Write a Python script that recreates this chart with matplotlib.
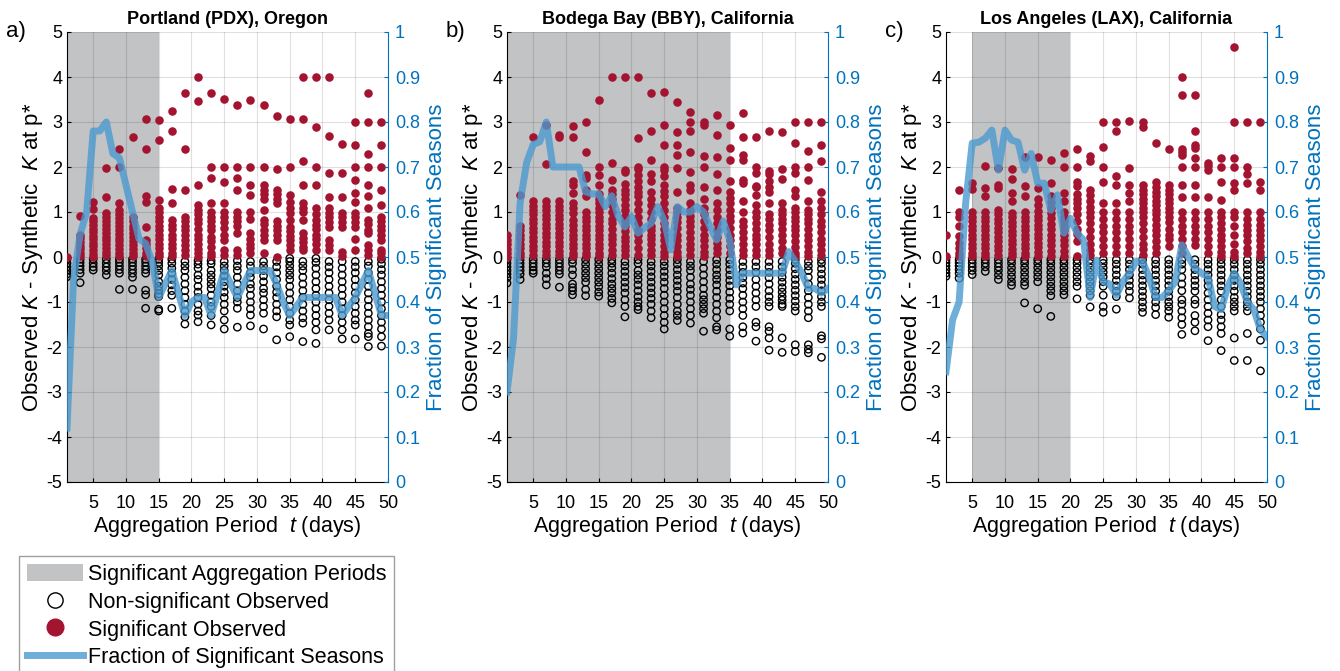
import matplotlib
matplotlib.use('Agg')
import matplotlib.pyplot as plt
from matplotlib.patches import Patch
from matplotlib.lines import Line2D

plt.rcParams['font.family'] = ['Liberation Sans', 'DejaVu Sans']
plt.rcParams['mathtext.fontset'] = 'custom'
plt.rcParams['mathtext.rm'] = 'Liberation Sans'
plt.rcParams['mathtext.it'] = 'Liberation Sans:italic'
plt.rcParams['axes.unicode_minus'] = False

# ---------------- data ----------------
periods = list(range(1, 51, 2))      # aggregation periods with scatter columns
days = list(range(1, 51))            # every aggregation period (fraction line)

titles = ['Portland (PDX), Oregon', 'Bodega Bay (BBY), California', 'Los Angeles (LAX), California']
panel_labels = ['a)', 'b)', 'c)']
sig_ranges = [(1, 15), (1, 35), (5, 20)]

pdx_sig = [
    [0.0],
    [0.91, 0.5, 0.42, 0.33, 0.25, 0.17, 0.08, 0.02],
    [1.23, 1.06, 0.87, 0.8, 0.72, 0.63, 0.55, 0.47, 0.4, 0.32, 0.24, 0.15, 0.07, 0.01],
    [1.98, 1.34, 0.97, 0.88, 0.8, 0.71, 0.62, 0.54, 0.45, 0.37, 0.28, 0.2, 0.12, 0.04],
    [2.39, 2.0, 1.21, 1.05, 0.95, 0.86, 0.78, 0.69, 0.6, 0.52, 0.43, 0.35, 0.26, 0.18, 0.1, 0.02],
    [2.67, 0.9, 0.8, 0.7, 0.62, 0.53, 0.44, 0.35, 0.27, 0.18, 0.1, 0.02],
    [3.07, 2.39, 1.36, 1.23, 0.67, 0.37, 0.28, 0.19, 0.1, 0.02],
    [3.05, 2.6, 1.26, 1.1, 1.0, 0.9, 0.8, 0.7, 0.6, 0.5, 0.4, 0.3, 0.2, 0.1, 0.02],
    [3.25, 2.8, 1.51, 1.21, 0.82, 0.72, 0.63, 0.5, 0.4, 0.3, 0.2, 0.1, 0.02],
    [3.65, 2.39, 1.5, 0.9, 0.8, 0.7, 0.6, 0.5, 0.38, 0.27, 0.15, 0.05],
    [4.0, 3.46, 1.6, 1.15, 1.05, 0.95, 0.85, 0.75, 0.62, 0.5, 0.4, 0.3, 0.18, 0.08, 0.01],
    [3.65, 2.0, 1.76, 1.2, 1.0, 0.9, 0.8, 0.7, 0.6, 0.45, 0.35, 0.22, 0.1, 0.02],
    [3.52, 2.0, 1.67, 1.2, 1.0, 0.9, 0.78, 0.65, 0.5, 0.38, 0.16, 0.05],
    [3.38, 2.0, 1.76, 1.48, 1.0, 0.9, 0.8, 0.68, 0.53, 0.16, 0.05],
    [3.49, 2.0, 1.61, 1.37, 1.0, 0.85, 0.53, 0.4, 0.3, 0.2, 0.08],
    [3.38, 2.0, 1.6, 1.5, 1.4, 1.28, 1.05, 0.82, 0.73, 0.6, 0.5, 0.38, 0.08],
    [3.13, 1.96, 1.5, 1.4, 1.3, 1.2, 0.8, 0.7, 0.6, 0.5, 0.38, 0.01],
    [3.07, 2.0, 1.37, 1.23, 1.1, 0.97, 0.82, 0.67, 0.57, 0.47, 0.37, 0.27, 0.16],
    [4.0, 3.07, 2.14, 1.6, 1.21, 1.1, 1.0, 0.82, 0.53, 0.43, 0.33, 0.23, 0.16],
    [4.0, 2.88, 2.0, 1.6, 1.09, 0.95, 0.82, 0.72, 0.62, 0.5, 0.4, 0.3, 0.16],
    [4.0, 2.7, 1.86, 1.33, 1.09, 0.98, 0.88, 0.78, 0.67, 0.38, 0.26, 0.16],
    [2.51, 1.86, 1.33, 0.97, 0.88, 0.78, 0.67, 0.12, 0.02],
    [3.0, 2.49, 2.0, 1.72, 1.42, 1.23, 0.97, 0.88, 0.78, 0.67, 0.41, 0.16],
    [3.65, 3.0, 2.28, 2.0, 1.6, 1.36, 1.09, 0.82, 0.73, 0.6, 0.53, 0.26, 0.16, 0.05],
    [3.0, 2.49, 2.0, 1.48, 1.16, 0.9, 0.8, 0.7, 0.6, 0.5, 0.38, 0.16, 0.08, 0.01],
]
pdx_non = [
    [-0.05, -0.14, -0.22, -0.3, -0.38, -0.44],
    [-0.05, -0.12, -0.2, -0.28, -0.36, -0.57],
    [-0.05, -0.14, -0.22, -0.29],
    [-0.05, -0.14, -0.22, -0.3, -0.4],
    [-0.05, -0.12, -0.2, -0.28, -0.36, -0.72],
    [-0.05, -0.12, -0.2, -0.28, -0.36, -0.45, -0.72],
    [-0.05, -0.12, -0.2, -0.28, -0.36, -0.74, -0.84, -1.14],
    [-0.05, -0.12, -0.2, -0.3, -0.4, -0.55, -0.65, -0.74, -0.82, -0.88, -1.16, -1.2],
    [-0.05, -0.14, -0.25, -0.36, -0.5, -0.62, -0.75, -0.85, -1.14],
    [-0.1, -0.2, -0.3, -0.45, -0.6, -0.75, -0.9, -1.05, -1.2, -1.33, -1.49],
    [-0.08, -0.16, -0.25, -0.4, -0.5, -0.65, -0.78, -0.9, -1.05, -1.2, -1.29, -1.44],
    [-0.08, -0.15, -0.3, -0.4, -0.5, -0.6, -0.7, -0.85, -1.0, -1.1, -1.3, -1.51],
    [-0.1, -0.2, -0.3, -0.42, -0.55, -0.65, -0.78, -0.9, -1.05, -1.2, -1.4, -1.6],
    [-0.08, -0.2, -0.3, -0.45, -0.6, -0.75, -0.9, -1.0, -1.14, -1.56],
    [-0.1, -0.2, -0.35, -0.45, -0.6, -0.7, -0.85, -1.0, -1.15, -1.29, -1.53],
    [-0.1, -0.2, -0.3, -0.42, -0.55, -0.7, -0.8, -0.95, -1.1, -1.25, -1.6],
    [-0.1, -0.22, -0.35, -0.5, -0.65, -0.78, -0.9, -1.05, -1.2, -1.33, -1.84],
    [-0.03, -0.1, -0.2, -0.3, -0.4, -0.5, -0.65, -0.8, -0.95, -1.1, -1.25, -1.4, -1.51, -1.77],
    [-0.1, -0.2, -0.3, -0.45, -0.6, -0.75, -0.9, -1.05, -1.2, -1.35, -1.47, -1.88],
    [-0.03, -0.12, -0.25, -0.4, -0.55, -0.7, -0.85, -1.0, -1.15, -1.3, -1.45, -1.62, -1.92],
    [-0.1, -0.22, -0.35, -0.5, -0.65, -0.8, -0.95, -1.1, -1.25, -1.4, -1.62],
    [-0.1, -0.25, -0.4, -0.55, -0.7, -0.85, -1.0, -1.15, -1.3, -1.45, -1.62, -1.82],
    [-0.1, -0.22, -0.35, -0.5, -0.65, -0.8, -0.95, -1.1, -1.25, -1.4, -1.51, -1.82],
    [-0.1, -0.2, -0.35, -0.5, -0.65, -0.8, -0.95, -1.1, -1.25, -1.4, -1.55, -1.7, -1.77, -1.99],
    [-0.05, -0.15, -0.28, -0.4, -0.55, -0.7, -0.85, -1.0, -1.15, -1.3, -1.45, -1.6, -1.77, -1.98],
]
pdx_frac = [0.12, 0.45, 0.55, 0.60, 0.78, 0.78, 0.80, 0.73, 0.72, 0.66,
            0.60, 0.54, 0.53, 0.49, 0.41, 0.44, 0.47, 0.42, 0.37, 0.40,
            0.41, 0.41, 0.37, 0.42, 0.47, 0.44, 0.41, 0.44, 0.47, 0.47,
            0.47, 0.47, 0.44, 0.40, 0.37, 0.39, 0.41, 0.41, 0.41, 0.41,
            0.41, 0.41, 0.37, 0.39, 0.41, 0.44, 0.47, 0.42, 0.37, 0.37]

bby_sig = [
    [0.49, 0.38, 0.28, 0.18, 0.08, 0.01],
    [1.38, 0.68, 0.6, 0.5, 0.4, 0.3, 0.2, 0.1, 0.02],
    [2.67, 1.24, 1.14, 1.05, 0.95, 0.85, 0.75, 0.65, 0.55, 0.45, 0.35, 0.25, 0.15, 0.05],
    [2.94, 2.07, 1.24, 1.14, 1.04, 0.94, 0.84, 0.74, 0.64, 0.54, 0.44, 0.34, 0.24, 0.14, 0.04],
    [2.72, 2.67, 1.24, 1.14, 1.04, 0.94, 0.84, 0.74, 0.64, 0.54, 0.44, 0.34, 0.24, 0.14, 0.04],
    [2.92, 2.67, 1.7, 1.6, 1.42, 1.2, 1.1, 0.98, 0.82, 0.72, 0.6, 0.5, 0.4, 0.3, 0.2, 0.1, 0.02],
    [3.0, 2.34, 1.82, 1.75, 1.5, 1.35, 1.0, 0.9, 0.8, 0.7, 0.6, 0.5, 0.4, 0.3, 0.2, 0.1, 0.02],
    [3.5, 2.0, 1.83, 1.6, 1.4, 1.3, 1.2, 1.1, 1.0, 0.9, 0.8, 0.7, 0.6, 0.5, 0.4, 0.3, 0.2, 0.1, 0.02],
    [4.0, 2.09, 1.72, 1.5, 1.4, 1.3, 1.15, 1.0, 0.85, 0.75, 0.62, 0.5, 0.4, 0.28, 0.16, 0.05],
    [4.0, 1.94, 1.88, 1.63, 1.5, 1.4, 1.3, 1.15, 1.05, 0.92, 0.8, 0.7, 0.58, 0.45, 0.35, 0.25, 0.15, 0.05],
    [4.0, 2.65, 2.0, 1.95, 1.83, 1.7, 1.55, 1.45, 1.35, 1.2, 1.05, 0.9, 0.75, 0.6, 0.48, 0.35, 0.2, 0.05],
    [3.64, 2.8, 2.16, 1.85, 1.7, 1.45, 1.3, 1.15, 1.0, 0.85, 0.7, 0.6, 0.5, 0.4, 0.28, 0.15, 0.05],
    [3.66, 2.94, 2.5, 2.0, 1.93, 1.8, 1.6, 1.47, 1.35, 1.2, 1.05, 0.9, 0.75, 0.62, 0.5, 0.38, 0.25, 0.12, 0.02],
    [3.44, 2.77, 2.5, 2.27, 1.98, 1.45, 1.1, 1.0, 0.9, 0.78, 0.65, 0.5, 0.38, 0.25, 0.12, 0.02],
    [3.22, 3.0, 2.8, 2.34, 1.89, 1.6, 1.48, 1.2, 1.05, 0.92, 0.8, 0.68, 0.55, 0.42, 0.3, 0.18, 0.05],
    [3.0, 2.93, 2.25, 2.0, 1.55, 1.3, 1.1, 0.95, 0.8, 0.65, 0.5, 0.38, 0.25, 0.12, 0.02],
    [3.16, 2.71, 2.22, 1.85, 1.48, 1.2, 1.05, 0.9, 0.75, 0.6, 0.45, 0.32, 0.2, 0.08],
    [2.94, 2.43, 2.15, 1.68, 1.45, 1.32, 1.2, 1.05, 0.92, 0.8, 0.65, 0.5, 0.38, 0.25, 0.1],
    [3.2, 2.67, 2.27, 2.16, 1.72, 1.65, 1.24, 1.0, 0.8, 0.7, 0.55, 0.42, 0.3, 0.15, 0.05],
    [2.67, 2.0, 1.87, 1.58, 1.55, 1.38, 1.15, 1.0, 0.88, 0.75, 0.62, 0.5, 0.4, 0.28, 0.15, 0.05],
    [2.79, 1.92, 1.85, 1.7, 1.55, 1.45, 1.2, 0.95, 0.85, 0.72, 0.6, 0.45, 0.3, 0.15, 0.05],
    [2.77, 1.95, 1.73, 1.2, 1.05, 0.95, 0.85, 0.75, 0.62, 0.5, 0.35, 0.2, 0.08],
    [3.0, 2.53, 2.0, 1.87, 1.5, 1.35, 1.1, 1.0, 0.9, 0.8, 0.7, 0.6, 0.48, 0.35, 0.22, 0.1, 0.02],
    [3.0, 2.36, 2.0, 1.72, 1.25, 1.05, 0.95, 0.85, 0.75, 0.62, 0.5, 0.38, 0.25, 0.12, 0.02],
    [3.0, 2.5, 2.14, 1.45, 1.24, 1.1, 0.95, 0.8, 0.68, 0.55, 0.4, 0.28, 0.15, 0.05],
]
bby_non = [
    [-0.06, -0.14, -0.22, -0.3, -0.38, -0.46, -0.58],
    [-0.06, -0.14, -0.22, -0.3, -0.38, -0.5],
    [-0.06, -0.14, -0.22, -0.3, -0.36],
    [-0.06, -0.14, -0.22, -0.36, -0.48, -0.62],
    [-0.06, -0.14, -0.22, -0.3, -0.38, -0.67],
    [-0.06, -0.14, -0.28, -0.4, -0.6, -0.68, -0.75, -0.84],
    [-0.06, -0.16, -0.26, -0.36, -0.46, -0.56, -0.72, -0.86],
    [-0.06, -0.16, -0.26, -0.36, -0.46, -0.56, -0.66, -0.78, -0.87],
    [-0.06, -0.14, -0.24, -0.36, -0.48, -0.6, -0.7, -0.8, -0.92, -1.02],
    [-0.1, -0.2, -0.32, -0.44, -0.56, -0.68, -0.8, -0.95, -1.1, -1.33],
    [-0.06, -0.14, -0.3, -0.4, -0.5, -0.62, -0.75, -0.88, -1.0, -1.1, -1.17],
    [-0.1, -0.2, -0.32, -0.44, -0.56, -0.68, -0.8, -0.92, -1.05, -1.2, -1.35],
    [-0.1, -0.2, -0.32, -0.44, -0.56, -0.7, -0.85, -1.0, -1.15, -1.3, -1.45, -1.6],
    [-0.06, -0.16, -0.28, -0.4, -0.52, -0.64, -0.76, -0.9, -1.05, -1.2, -1.3, -1.41],
    [-0.1, -0.2, -0.3, -0.45, -0.6, -0.72, -0.85, -1.0, -1.15, -1.3, -1.47],
    [-0.1, -0.25, -0.4, -0.55, -0.7, -0.85, -0.95, -1.05, -1.15, -1.25, -1.65],
    [-0.06, -0.16, -0.28, -0.4, -0.5, -0.62, -0.76, -0.9, -1.05, -1.2, -1.35, -1.55, -1.62],
    [-0.06, -0.16, -0.28, -0.4, -0.52, -0.64, -0.78, -0.92, -1.05, -1.2, -1.6, -1.76],
    [-0.1, -0.22, -0.34, -0.46, -0.58, -0.7, -0.85, -1.0, -1.15, -1.3, -1.55, -1.69],
    [-0.1, -0.22, -0.34, -0.5, -0.65, -0.8, -0.95, -1.1, -1.45, -1.55, -1.87],
    [-0.1, -0.22, -0.34, -0.46, -0.6, -0.75, -0.88, -1.0, -1.1, -1.55, -1.65, -1.8, -2.07],
    [-0.1, -0.22, -0.34, -0.45, -0.56, -0.68, -0.78, -0.88, -0.96, -1.05, -1.1, -1.8, -2.12],
    [-0.06, -0.14, -0.26, -0.38, -0.5, -0.62, -0.74, -0.86, -0.98, -1.1, -1.2, -1.95, -2.1],
    [-0.1, -0.2, -0.3, -0.45, -0.6, -0.75, -0.9, -1.05, -1.2, -1.35, -1.95, -2.05, -2.13],
    [-0.06, -0.14, -0.26, -0.38, -0.5, -0.62, -0.75, -0.88, -1.0, -1.1, -1.75, -1.82, -2.23],
]
bby_frac = [0.20, 0.32, 0.62, 0.71, 0.75, 0.756, 0.80, 0.70, 0.70, 0.70,
            0.70, 0.70, 0.645, 0.64, 0.64, 0.612, 0.636, 0.59, 0.567, 0.59,
            0.553, 0.565, 0.575, 0.612, 0.58, 0.516, 0.612, 0.60, 0.60, 0.612,
            0.60, 0.567, 0.538, 0.58, 0.538, 0.438, 0.464, 0.464, 0.464, 0.464,
            0.464, 0.464, 0.464, 0.512, 0.49, 0.464, 0.43, 0.43, 0.42, 0.43]

lax_sig = [
    [0.5, 0.03],
    [1.5, 1.0, 0.88, 0.68, 0.46, 0.31, 0.2, 0.1, 0.03],
    [1.64, 1.51, 1.0, 0.9, 0.8, 0.7, 0.6, 0.5, 0.4, 0.3, 0.2, 0.1, 0.03],
    [2.03, 1.53, 1.35, 1.0, 0.9, 0.8, 0.7, 0.6, 0.5, 0.4, 0.3, 0.2, 0.1, 0.03],
    [1.98, 1.6, 1.53, 1.05, 0.95, 0.85, 0.75, 0.65, 0.55, 0.45, 0.35, 0.25, 0.15, 0.05],
    [1.95, 1.73, 1.42, 1.25, 0.98, 0.88, 0.78, 0.68, 0.58, 0.48, 0.38, 0.28, 0.18, 0.08, 0.02],
    [2.22, 1.57, 1.35, 1.0, 0.9, 0.8, 0.7, 0.6, 0.5, 0.4, 0.3, 0.2, 0.1, 0.03],
    [2.22, 1.53, 1.28, 1.15, 1.02, 0.92, 0.82, 0.72, 0.62, 0.52, 0.42, 0.32, 0.22, 0.12, 0.03],
    [2.16, 1.64, 1.35, 1.22, 1.1, 0.98, 0.86, 0.74, 0.62, 0.5, 0.38, 0.26, 0.14, 0.03],
    [2.31, 2.0, 1.42, 1.24, 1.0, 0.9, 0.8, 0.7, 0.6, 0.5, 0.38, 0.26, 0.14, 0.03],
    [2.41, 2.0, 1.66, 1.57, 1.4, 1.3, 1.2, 1.1, 0.95, 0.8, 0.62, 0.52, 0.35, 0.03],
    [2.24, 2.14, 1.5, 1.38, 1.25, 1.12, 1.0, 0.88, 0.75, 0.6, 0.45, 0.3, 0.15, 0.05],
    [3.0, 2.44, 2.0, 1.66, 1.2, 1.0, 0.85, 0.7, 0.55, 0.4, 0.25, 0.1],
    [3.0, 2.81, 1.79, 1.59, 1.2, 1.0, 0.85, 0.7, 0.55, 0.4, 0.25, 0.1],
    [3.03, 1.98, 1.6, 1.42, 1.25, 1.0, 0.85, 0.7, 0.55, 0.4, 0.25, 0.1],
    [3.0, 2.89, 1.6, 1.5, 1.4, 1.3, 1.2, 1.1, 1.0, 0.9, 0.75, 0.6, 0.45, 0.3, 0.18, 0.05],
    [2.53, 1.66, 1.55, 1.45, 1.35, 1.25, 1.15, 1.05, 0.95, 0.85, 0.72, 0.6, 0.48, 0.35, 0.22, 0.1],
    [2.41, 1.6, 1.5, 1.4, 1.3, 1.2, 1.1, 1.0, 0.9, 0.78, 0.62, 0.5, 0.4, 0.25],
    [4.0, 3.6, 2.41, 2.34, 2.27, 2.0, 1.59, 1.33, 1.0, 0.85, 0.7, 0.55, 0.4, 0.25, 0.1],
    [3.6, 2.81, 2.5, 2.42, 2.2, 2.0, 1.59, 1.33, 1.0, 0.85, 0.7, 0.55, 0.4, 0.27],
    [2.1, 2.02, 1.94, 1.33, 1.0, 0.85, 0.7, 0.55, 0.4, 0.25, 0.1],
    [2.2, 2.0, 1.67, 1.27, 1.0, 0.88, 0.75, 0.62, 0.5, 0.38, 0.25, 0.12, 0.03],
    [4.67, 3.0, 2.2, 2.0, 1.64, 1.5, 1.0, 0.88, 0.7, 0.5, 0.3, 0.12, 0.03],
    [3.0, 2.0, 1.84, 1.64, 1.0, 0.85, 0.72, 0.6, 0.48, 0.35, 0.2, 0.1],
    [3.0, 1.67, 1.5, 1.0, 0.85, 0.72, 0.6, 0.5, 0.38, 0.25, 0.12, 0.03],
]
lax_non = [
    [-0.06, -0.13, -0.2, -0.28, -0.36, -0.43],
    [-0.06, -0.13, -0.2, -0.28, -0.36, -0.47],
    [-0.06, -0.14, -0.22, -0.3, -0.39],
    [-0.06, -0.14, -0.22, -0.32],
    [-0.06, -0.14, -0.22, -0.3, -0.4, -0.5],
    [-0.06, -0.14, -0.24, -0.34, -0.44, -0.55, -0.63],
    [-0.06, -0.14, -0.24, -0.34, -0.44, -0.55, -0.63, -1.02],
    [-0.06, -0.14, -0.24, -0.34, -0.44, -0.55, -1.15],
    [-0.06, -0.14, -0.24, -0.34, -0.44, -0.55, -0.65, -0.75, -0.86, -1.32],
    [-0.06, -0.14, -0.24, -0.34, -0.44, -0.55, -0.65, -0.75, -0.84],
    [-0.06, -0.14, -0.24, -0.34, -0.44, -0.55, -0.65, -0.93],
    [-0.06, -0.14, -0.24, -0.34, -0.44, -0.55, -0.65, -0.75, -0.85, -1.11],
    [-0.06, -0.14, -0.24, -0.34, -0.44, -0.55, -0.65, -0.85, -1.1, -1.23],
    [-0.06, -0.16, -0.28, -0.4, -0.52, -0.64, -0.76, -0.88, -1.16],
    [-0.06, -0.16, -0.28, -0.4, -0.52, -0.64, -0.76, -0.91],
    [-0.06, -0.16, -0.28, -0.4, -0.52, -0.64, -0.76, -0.88, -1.0, -1.12, -1.23],
    [-0.06, -0.16, -0.28, -0.4, -0.52, -0.64, -0.76, -0.88, -1.0, -1.12, -1.28],
    [-0.06, -0.16, -0.28, -0.4, -0.52, -0.64, -0.76, -0.88, -1.0, -1.1, -1.2, -1.34],
    [-0.06, -0.16, -0.28, -0.45, -0.6, -0.75, -0.95, -1.05, -1.2, -1.35, -1.5, -1.72],
    [-0.06, -0.16, -0.28, -0.4, -0.52, -0.64, -0.76, -0.95, -1.05, -1.3, -1.45, -1.64],
    [-0.06, -0.16, -0.28, -0.4, -0.52, -0.64, -0.8, -0.95, -1.1, -1.25, -1.4, -1.55, -1.86],
    [-0.06, -0.16, -0.28, -0.4, -0.52, -0.64, -0.76, -0.95, -1.1, -1.28, -1.4, -1.55, -1.7, -2.08],
    [-0.06, -0.16, -0.28, -0.4, -0.52, -0.64, -0.76, -0.9, -1.0, -1.1, -1.2, -1.8, -2.3],
    [-0.06, -0.16, -0.28, -0.4, -0.52, -0.64, -0.76, -0.88, -1.0, -1.1, -1.2, -1.7, -2.3],
    [-0.06, -0.16, -0.28, -0.4, -0.52, -0.64, -0.76, -0.88, -1.0, -1.15, -1.3, -1.45, -1.6, -1.85, -2.53],
]
lax_frac = [0.245, 0.36, 0.40, 0.62, 0.753, 0.755, 0.764, 0.782, 0.693, 0.782,
            0.76, 0.755, 0.693, 0.73, 0.664, 0.664, 0.604, 0.638, 0.553, 0.586,
            0.553, 0.538, 0.41, 0.493, 0.445, 0.44, 0.415, 0.445, 0.464, 0.49,
            0.49, 0.455, 0.41, 0.41, 0.425, 0.445, 0.527, 0.50, 0.475, 0.464,
            0.455, 0.39, 0.383, 0.434, 0.464, 0.44, 0.40, 0.383, 0.338, 0.323]

sig_data = [pdx_sig, bby_sig, lax_sig]
non_data = [pdx_non, bby_non, lax_non]
frac_data = [pdx_frac, bby_frac, lax_frac]

# ---------------- style ----------------
RED = '#A2142F'
GREY = '#C2C3C5'
BLUE_LINE = '#4a9ad0'
BLUE_AX = '#0072BD'

W, H = 1340, 671
fig = plt.figure(figsize=(W / 100, H / 100), dpi=100)

lefts = [67, 507, 946]
ax_w = 321
top_px, bot_px = 32, 482

for i in range(3):
    ax = fig.add_axes([lefts[i] / W, 1 - bot_px / H, ax_w / W, (bot_px - top_px) / H])
    s0, s1 = sig_ranges[i]
    ax.axvspan(s0, s1, color=GREY, lw=0, zorder=0.2)
    for t, vals in zip(periods, non_data[i]):
        ax.scatter([t] * len(vals), vals, s=28, facecolors='none',
                   edgecolors='k', linewidths=1.0, zorder=2)
    for t, vals in zip(periods, sig_data[i]):
        ax.scatter([t] * len(vals), vals, s=38, color=RED, lw=0, zorder=3)
    ax.set_xlim(1, 50)
    ax.set_ylim(-5, 5)
    ax.set_xticks(range(5, 51, 5))
    ax.set_yticks(range(-5, 6))
    ax.grid(True, color='k', alpha=0.12, lw=0.8)
    ax.set_axisbelow(True)
    ax.tick_params(direction='in', length=3, labelsize=13, colors='k', width=0.8)
    ax.tick_params(axis='x', pad=9)
    ax.spines['top'].set_visible(False)
    ax.spines['right'].set_visible(False)
    ax.set_xlabel(r'Aggregation Period  $\it{t}$ (days)', fontsize=15.5, labelpad=2)
    ax.set_ylabel(r'Observed $\it{K}$ - Synthetic  $\it{K}$ at p*', fontsize=16, labelpad=1)
    ax.set_title(titles[i], fontsize=13, fontweight='bold', pad=6)
    ax.text(-0.19, 1.0, panel_labels[i], transform=ax.transAxes, fontsize=16,
            ha='left', va='center')

    ax2 = ax.twinx()
    ax2.plot(days, frac_data[i], color=BLUE_LINE, lw=5, alpha=0.8, zorder=4,
             solid_joinstyle='round')
    ax2.set_ylim(0, 1)
    ax2.set_yticks([k / 10 for k in range(11)])
    ax2.set_yticklabels(['0'] + ['%.1f' % (k / 10) for k in range(1, 10)] + ['1'])
    ax2.tick_params(direction='in', length=3, labelsize=13, colors=BLUE_AX, width=0.8, pad=5)
    for sp in ['top', 'left', 'bottom']:
        ax2.spines[sp].set_visible(False)
    ax2.spines['right'].set_color(BLUE_AX)
    ax2.set_ylabel('Fraction of Significant Seasons', fontsize=16, color=BLUE_AX, labelpad=4)

handles = [
    Patch(facecolor=GREY, edgecolor='none'),
    Line2D([], [], ls='none', marker='o', markersize=11, markerfacecolor='none',
           markeredgecolor='k', markeredgewidth=1.0),
    Line2D([], [], ls='none', marker='o', markersize=12, markerfacecolor=RED,
           markeredgecolor=RED),
    Line2D([], [], color='#6EAED9', lw=5),
]
labels = ['Significant Aggregation Periods', 'Non-significant Observed',
          'Significant Observed', 'Fraction of Significant Seasons']
leg = fig.legend(handles, labels, loc='upper left', bbox_to_anchor=(19 / W, 1 - 556 / H),
                 fontsize=15.5, frameon=True, fancybox=False, edgecolor='#888888',
                 handlelength=2.6, handleheight=0.9, handletextpad=0.25, labelspacing=0.3,
                 borderpad=0.35, borderaxespad=0)
leg.get_frame().set_linewidth(1.0)

fig.savefig('out.png', dpi=100)
